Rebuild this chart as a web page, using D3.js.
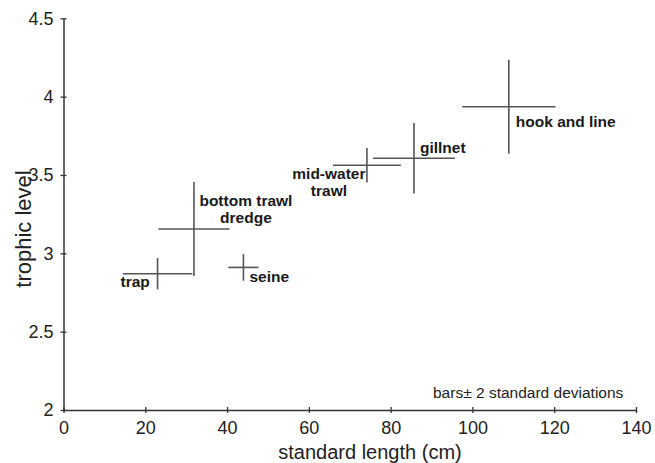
<!DOCTYPE html>
<html>
<head>
<meta charset="utf-8">
<script src="https://cdn.jsdelivr.net/npm/d3@7"></script>
<style>
  body { margin: 0; background: #fff; }
  svg { font-family: "Liberation Sans", Arial, sans-serif; }
</style>
</head>
<body>
<div id="chart"></div>
<script>
// gear types, mean standard length and trophic level, and 2 SD half-widths
var gears = ["trap", "bottom trawl", "seine", "mid-water trawl", "gillnet", "hook and line"];
var meanLength = [23.0, 31.9, 44.0, 74.2, 85.7, 108.9];
var lengthErr = [8.5, 8.7, 3.7, 8.3, 10.0, 11.4];
var meanTrophic = [2.87, 3.155, 2.91, 3.562, 3.607, 3.935];
var trophicErr = [0.10, 0.30, 0.085, 0.11, 0.225, 0.30];

var xTicks = [0, 20, 40, 60, 80, 100, 120, 140];
var yTicks = [2, 2.5, 3, 3.5, 4, 4.5];

// label text lines for each gear
var labelLines = [["trap"], ["bottom trawl", "dredge"], ["seine"], ["mid-water", "trawl"], ["gillnet"], ["hook and line"]];

var width = 655, height = 463;

var svg = d3.select("#chart")
    .append("svg")
    .attr("width", width)
    .attr("height", height);

var x = d3.scaleLinear()
    .domain([0, 140])
    .range([63.5, 636]);

var y = d3.scaleLinear()
    .domain([2, 4.5])
    .range([410, 18.3]);

// axes
var xAxis = svg.append("g")
    .attr("transform", "translate(0," + y(2) + ")")
    .call(d3.axisBottom(x).tickValues(xTicks).tickSize(3).tickSizeOuter(0).tickPadding(8).tickFormat(d => String(d)));
xAxis.selectAll(".tick line").attr("y1", -3);

var yAxis = svg.append("g")
    .attr("transform", "translate(" + x(0) + ",0)")
    .call(d3.axisLeft(y).tickValues(yTicks).tickSize(3).tickSizeOuter(0).tickPadding(7).tickFormat(d => String(d)));
yAxis.selectAll(".tick line").attr("x1", 3);

svg.selectAll(".domain").attr("stroke", "#333").attr("stroke-width", 1.5);
svg.selectAll(".tick line").attr("stroke", "#333").attr("stroke-width", 1.3);
svg.selectAll(".tick text")
    .attr("font-size", 18)
    .attr("font-family", "Liberation Sans, Arial, sans-serif")
    .attr("fill", "#222");

// axis titles
svg.append("text")
    .attr("x", 370)
    .attr("y", 459)
    .attr("text-anchor", "middle")
    .attr("font-size", 20)
    .attr("fill", "#222")
    .text("standard length (cm)");

svg.append("text")
    .attr("transform", "translate(31,229) rotate(-90)")
    .attr("text-anchor", "middle")
    .attr("font-size", 22)
    .attr("fill", "#222")
    .text("trophic level");

// error crosses
var idx = d3.range(gears.length);

svg.append("g").selectAll("line.h")
    .data(idx)
    .join("line")
    .attr("x1", i => x(meanLength[i] - lengthErr[i]))
    .attr("x2", i => x(meanLength[i] + lengthErr[i]))
    .attr("y1", i => y(meanTrophic[i]))
    .attr("y2", i => y(meanTrophic[i]))
    .attr("stroke", "#555")
    .attr("stroke-width", 1.6);

svg.append("g").selectAll("line.v")
    .data(idx)
    .join("line")
    .attr("x1", i => x(meanLength[i]))
    .attr("x2", i => x(meanLength[i]))
    .attr("y1", i => y(meanTrophic[i] - trophicErr[i]))
    .attr("y2", i => y(meanTrophic[i] + trophicErr[i]))
    .attr("stroke", "#555")
    .attr("stroke-width", 1.6);

// labels, offsets in pixels from each cross centre
var labelOffset = [
    {dx: -37, dy: 13, anchor: "start"},
    {dx: 52, dy: -23, anchor: "middle"},
    {dx: 6, dy: 15, anchor: "start"},
    {dx: -38, dy: 14, anchor: "middle"},
    {dx: 6, dy: -5, anchor: "start"},
    {dx: 7, dy: 20, anchor: "start"}
];

var labels = svg.append("g")
    .selectAll("text")
    .data(idx)
    .join("text")
    .attr("x", i => x(meanLength[i]) + labelOffset[i].dx)
    .attr("y", i => y(meanTrophic[i]) + labelOffset[i].dy)
    .attr("text-anchor", i => labelOffset[i].anchor)
    .attr("font-size", 15.5)
    .attr("font-weight", "bold")
    .attr("fill", "#1a1a1a");

labels.selectAll("tspan")
    .data(i => labelLines[i].map(t => ({t: t, i: i})))
    .join("tspan")
    .attr("x", d => x(meanLength[d.i]) + labelOffset[d.i].dx)
    .attr("dy", (d, k) => k === 0 ? 0 : 16.5)
    .text(d => d.t);

// note
svg.append("text")
    .attr("x", 433)
    .attr("y", 398)
    .attr("font-size", 15.5)
    .attr("fill", "#222")
    .text("bars\u00b1 2 standard deviations");
</script>
</body>
</html>
